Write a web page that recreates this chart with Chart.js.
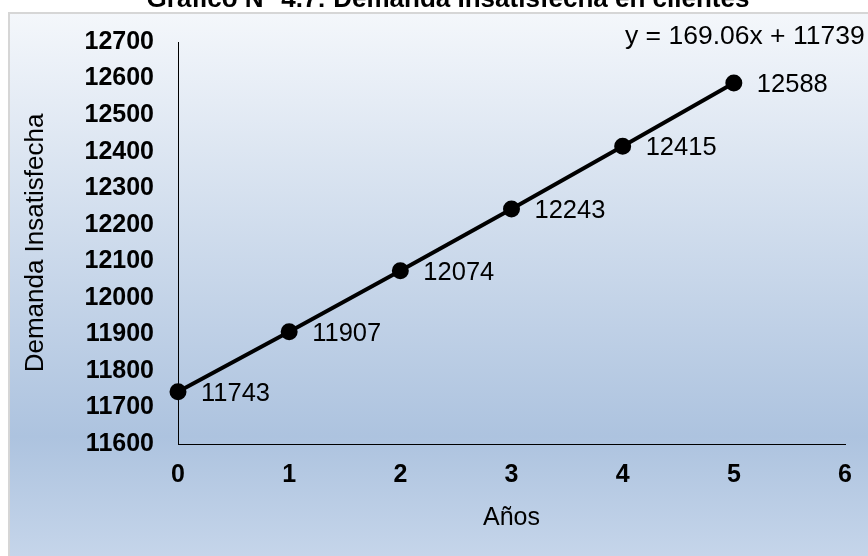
<!DOCTYPE html>
<html>
<head>
<meta charset="utf-8">
<script src="https://cdn.jsdelivr.net/npm/chart.js@4"></script>
<style>
  body { margin: 0; background: #fff; }
  #wrap { width: 868px; height: 556px; }
</style>
</head>
<body>
<div id="wrap"><canvas id="chart" width="868" height="556"></canvas></div>
<script>
// datos del gráfico
const years = [0, 1, 2, 3, 4, 5];
const demand = [11743, 11907, 12074, 12243, 12415, 12588];
const chartTitle = "Gráfico N° 4.7: Demanda Insatisfecha en clientes";
const trendText = "y = 169.06x + 11739";
const xTitle = "Años";
const yTitle = "Demanda Insatisfecha";

const FONT = "Arial, 'Liberation Sans', sans-serif";

const points = years.map((x, i) => ({ x: x, y: demand[i] }));

// fondo con degradado, título cortado arriba y ecuación de tendencia
const backdrop = {
  id: "backdrop",
  beforeDraw(chart) {
    const c = chart.ctx;
    c.save();
    c.fillStyle = "#ffffff";
    c.fillRect(0, 0, chart.width, chart.height);
    c.fillStyle = "#000";
    c.font = "bold 26px " + FONT;
    c.textAlign = "center";
    c.textBaseline = "alphabetic";
    c.fillText(chartTitle, 448, 7);
    const g = c.createLinearGradient(0, 12, 0, chart.height);
    g.addColorStop(0, "#f4f7fb");
    g.addColorStop(0.78, "#adc3df");
    g.addColorStop(1, "#c5d5ea");
    c.fillStyle = g;
    c.fillRect(8, 12, chart.width - 8, chart.height - 12);
    c.strokeStyle = "#d6d6d6";
    c.lineWidth = 2;
    c.beginPath();
    c.moveTo(9, chart.height);
    c.lineTo(9, 13);
    c.lineTo(chart.width, 13);
    c.stroke();
    c.restore();
  },
  afterDraw(chart) {
    const c = chart.ctx;
    c.save();
    c.fillStyle = "#000";
    c.font = "26.5px " + FONT;
    c.textAlign = "left";
    c.textBaseline = "middle";
    c.fillText(trendText, 625, 37);
    c.restore();
  }
};

// etiquetas de datos a la derecha de cada punto
const pointLabels = {
  id: "pointLabels",
  afterDatasetsDraw(chart) {
    const c = chart.ctx;
    const meta = chart.getDatasetMeta(0);
    c.save();
    c.fillStyle = "#000";
    c.font = "25.5px " + FONT;
    c.textAlign = "left";
    c.textBaseline = "middle";
    meta.data.forEach((p, i) => {
      c.fillText(String(demand[i]), p.x + 23, p.y + 2);
    });
    c.restore();
  }
};

new Chart(document.getElementById("chart"), {
  type: "line",
  data: {
    datasets: [{
      data: points,
      borderColor: "#000",
      backgroundColor: "#000",
      borderWidth: 4,
      pointRadius: 6.5,
      pointHoverRadius: 6.5,
      pointBackgroundColor: "#000",
      pointBorderColor: "#000",
      tension: 0,
      clip: false
    }]
  },
  options: {
    responsive: false,
    animation: false,
    layout: { padding: { left: 8, top: 42, right: 23, bottom: 0 } },
    plugins: {
      legend: { display: false },
      tooltip: { enabled: false }
    },
    scales: {
      x: {
        type: "linear",
        min: 0,
        max: 6,
        ticks: { stepSize: 1, padding: 16, color: "#000", font: { family: FONT, size: 25, weight: "bold" } },
        grid: { display: false, drawTicks: false },
        border: { display: true, color: "#000", width: 1 },
        title: { display: true, text: xTitle, color: "#000", font: { family: FONT, size: 25 }, padding: { top: 0, bottom: 23 } },
        afterFit(s) { s.height = 112; }
      },
      y: {
        min: 11600,
        max: 12700,
        ticks: {
          stepSize: 100, padding: 24, color: "#000",
          font: { family: FONT, size: 25, weight: "bold" },
          callback: (v) => String(v)
        },
        grid: { display: false, drawTicks: false },
        border: { display: true, color: "#000", width: 1 },
        title: { display: true, text: yTitle, color: "#000", font: { family: FONT, size: 26 }, padding: { top: 12, bottom: 0 } },
        afterFit(s) { s.width = 170; }
      }
    }
  },
  plugins: [backdrop, pointLabels]
});
</script>
</body>
</html>
